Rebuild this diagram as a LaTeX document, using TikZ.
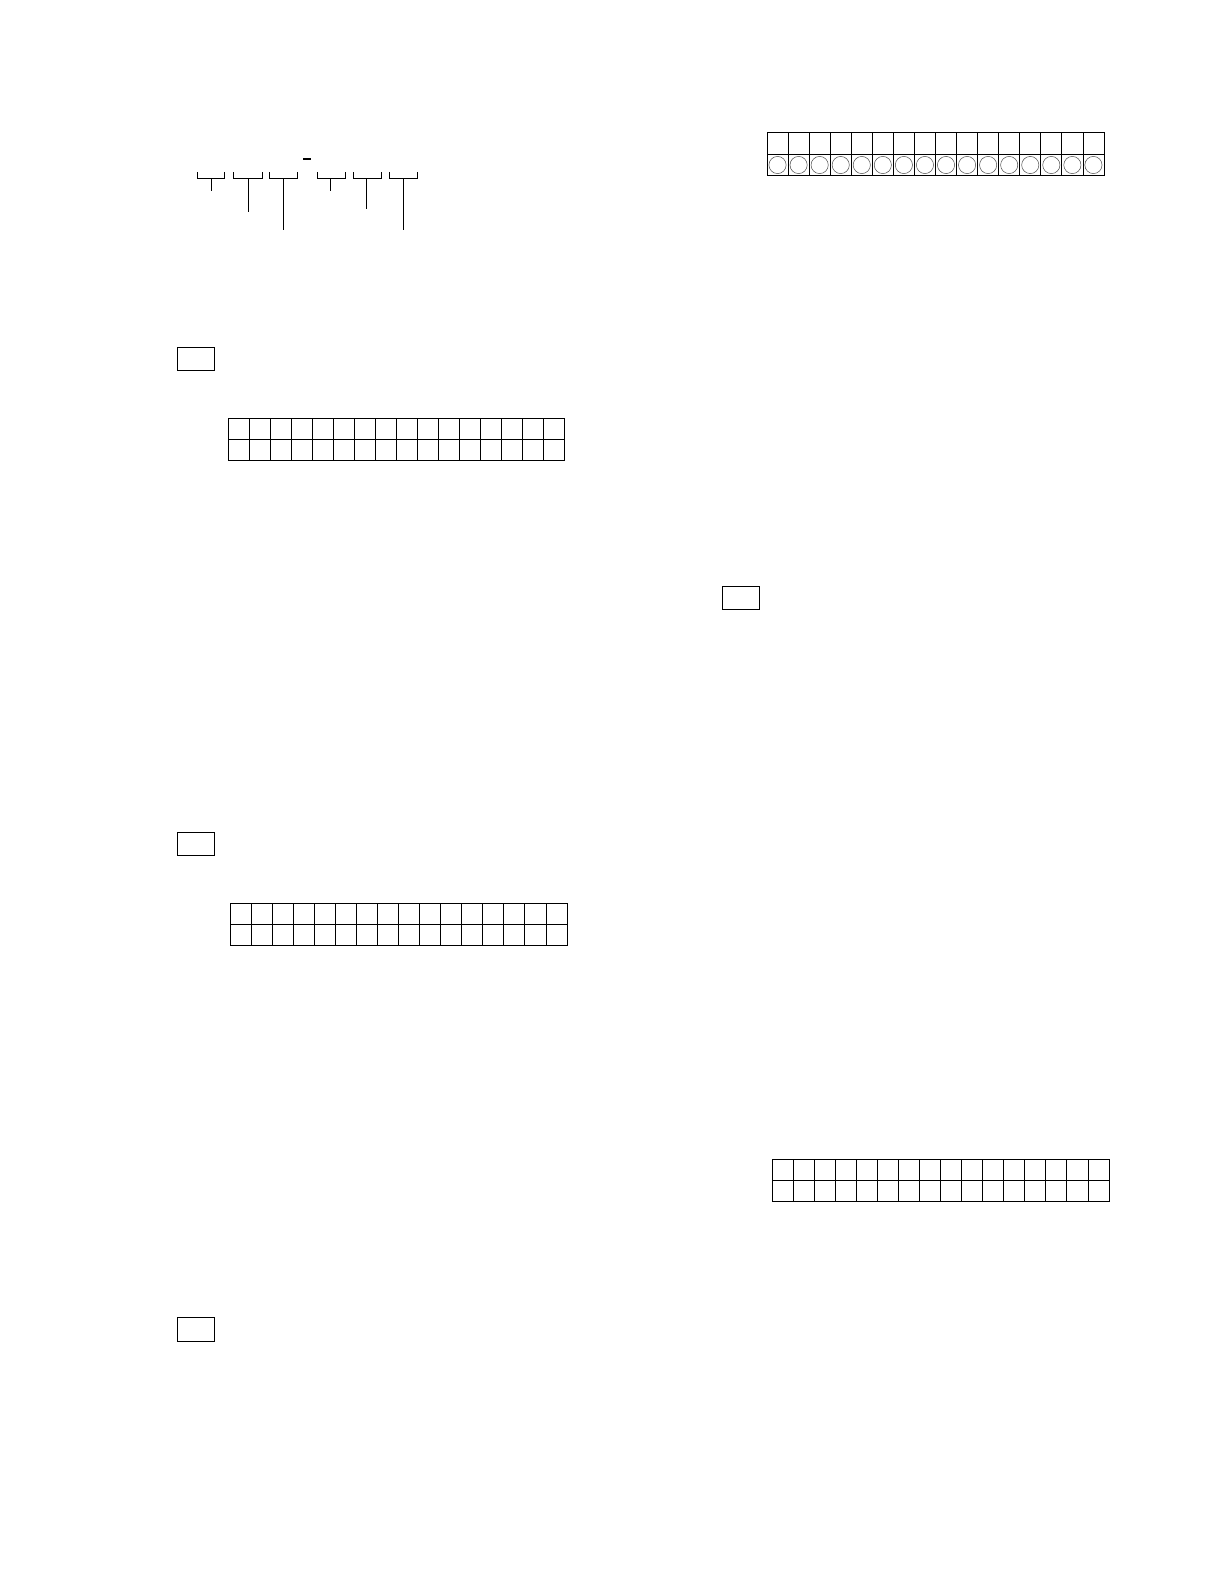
\documentclass[tikz,border=0pt]{standalone}
\begin{document}
\begin{tikzpicture}[x=1pt,y=-1pt,line width=0.8pt,
  gridline/.style={draw=black,line width=0.8pt},
  thickline/.style={draw=black,line width=1.4pt},
  ringstyle/.style={draw=black!70,line width=0.5pt},
  labelbox/.style={draw=black,line width=0.9pt}]
\useasboundingbox (0,0) rectangle (1224,1584);
% top-left bracket scheme
\draw[line width=1.6pt] (303,159) -- (311,159);
\foreach \a/\b/\s/\e in {197/224/211/191, 233/262/248/212, 269/297/283/230, 317/345/330/191, 353/381/366/209, 389/417/403/230}{
  \draw (\a,172) -- (\a,178) -- (\b,178) -- (\b,172);
  \draw (\s,178) -- (\s,\e);
}
% top-right grid with circles
\def\gx{767}\def\gw{21.06}
\draw[gridline] (767,132.3) rectangle (1104,175.7);
\draw[gridline] (767,154) -- (1104,154);
\foreach \i in {1,...,15}{\draw[gridline] ({767+\i*21.06},132.3) -- ({767+\i*21.06},175.7);}
\draw[thickline] ({767+6*21.06},132.3) -- ({767+6*21.06},175.7);
\foreach \i in {0,...,15}{\draw[ringstyle] ({767+(\i+0.5)*21.06},165) circle (8.6);}
% left grid 1
\draw[gridline] (228,418) rectangle (564,460);
\draw[gridline] (228,439) -- (564,439);
\foreach \i in {1,...,15}{\draw[gridline] ({228+\i*21},418) -- ({228+\i*21},460);}
% left grid 2
\draw[gridline] (230,903) rectangle (567,945.5);
\draw[gridline] (230,924) -- (567,924);
\foreach \i in {1,...,15}{\draw[gridline] ({230+\i*21.06},903) -- ({230+\i*21.06},945.5);}
% right grid 3
\draw[gridline] (772,1159) rectangle (1109,1201);
\draw[gridline] (772,1180) -- (1109,1180);
\foreach \i in {1,...,15}{\draw[gridline] ({772+\i*21.06},1159) -- ({772+\i*21.06},1201);}
\draw[thickline] ({772+9*21.06},1159) -- ({772+9*21.06},1201);
% label boxes
\node[labelbox,inner sep=0pt,minimum width=37pt,minimum height=23pt] (b1) at (195.5,358.5) {};
\node[labelbox,inner sep=0pt,minimum width=37pt,minimum height=23pt] (b2) at (195.5,843.5) {};
\node[labelbox,inner sep=0pt,minimum width=37pt,minimum height=24pt] (b3) at (195.5,1329) {};
\node[labelbox,inner sep=0pt,minimum width=37pt,minimum height=23pt] (b4) at (740.5,597.5) {};
\end{tikzpicture}
\end{document}
